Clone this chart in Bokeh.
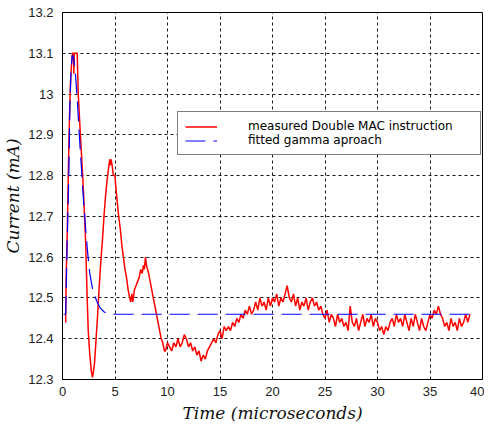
import numpy as np
from bokeh.plotting import figure
from bokeh.models import Legend, LegendItem, FixedTicker, Range1d
from bokeh.embed import file_html
from bokeh.resources import INLINE

# ---- data ----
# measured current, early transient (time in microseconds, current in mA)
meas_t_early = [0.3, 0.35, 0.45, 0.55, 0.65, 0.75, 0.85, 0.95, 1.05, 1.08, 1.12, 1.25, 1.4,
                1.5, 1.6, 1.75, 1.9, 2.05, 2.2, 2.35, 2.45, 2.6, 2.75, 2.85, 2.95, 3.05,
                3.2, 3.35, 3.5, 3.65, 3.8, 3.95, 4.1, 4.25, 4.4, 4.5, 4.55, 4.6, 4.7, 4.85,
                5.0, 5.05, 5.2, 5.35, 5.5, 5.65, 5.8, 5.95, 6.1, 6.25, 6.4, 6.5, 6.6, 6.7,
                6.85, 7.0, 7.15, 7.3, 7.45, 7.6, 7.7, 7.8, 7.9, 8.0, 8.1, 8.2, 8.35, 8.5,
                8.65, 8.8, 8.95, 9.1, 9.25, 9.4, 9.55, 9.7]
meas_v_early = [12.44, 12.55, 12.66, 12.80, 12.93, 13.02, 13.07, 13.10, 13.10, 13.05, 13.10, 13.10, 13.10,
                13.00, 12.95, 12.88, 12.81, 12.73, 12.64, 12.50, 12.42, 12.36, 12.32, 12.305, 12.32, 12.34,
                12.40, 12.46, 12.53, 12.59, 12.64, 12.70, 12.75, 12.79, 12.82, 12.84, 12.825, 12.84, 12.83, 12.80,
                12.80, 12.78, 12.74, 12.70, 12.67, 12.63, 12.60, 12.57, 12.55, 12.52, 12.50, 12.49, 12.51, 12.49,
                12.52, 12.53, 12.54, 12.55, 12.57, 12.56, 12.58, 12.57, 12.60, 12.58, 12.57, 12.56, 12.54, 12.52,
                12.50, 12.48, 12.46, 12.44, 12.42, 12.40, 12.39, 12.37]
# measured current, settled part: samples every 0.2 us starting at 9.8 us
meas_settle_start = 9.8
meas_settle_step = 0.2
meas_v_settle = [
    12.37, 12.39, 12.38, 12.37, 12.39, 12.38, 12.40, 12.38, 12.39, 12.41,
    12.40, 12.38, 12.39, 12.37, 12.38, 12.36, 12.37, 12.345, 12.36, 12.35,
    12.37, 12.38, 12.39, 12.40, 12.39, 12.41, 12.42, 12.40, 12.43, 12.42,
    12.43, 12.42, 12.44, 12.43, 12.45, 12.44, 12.46, 12.45, 12.47, 12.46,
    12.48, 12.46, 12.47, 12.49, 12.47, 12.50, 12.48, 12.49, 12.47, 12.50,
    12.48, 12.50, 12.49, 12.51, 12.48, 12.50, 12.49, 12.51, 12.53, 12.50,
    12.49, 12.51, 12.48, 12.50, 12.47, 12.49, 12.48, 12.50, 12.47, 12.49,
    12.50, 12.48, 12.49, 12.47, 12.48, 12.46, 12.45, 12.47, 12.44, 12.46,
    12.45, 12.43, 12.46, 12.44, 12.45, 12.43, 12.44, 12.42, 12.48, 12.44,
    12.43, 12.45, 12.42, 12.44, 12.46, 12.43, 12.45, 12.44, 12.46, 12.43,
    12.45, 12.44, 12.42, 12.43, 12.41, 12.43, 12.42, 12.44, 12.45, 12.43,
    12.46, 12.44, 12.45, 12.43, 12.46, 12.44, 12.42, 12.45, 12.43, 12.46,
    12.44, 12.42, 12.45, 12.43, 12.42, 12.44, 12.46, 12.45, 12.47, 12.46,
    12.48, 12.46, 12.45, 12.43, 12.44, 12.42, 12.45, 12.43, 12.44, 12.42,
    12.45, 12.43, 12.44, 12.46, 12.44, 12.46]

# fitted gamma approach
fit_t = [0.1, 0.3, 0.45, 0.6, 0.7, 0.8, 0.92, 1.05, 1.2, 1.4, 1.6, 1.8, 2.0, 2.2, 2.4,
         2.6, 2.8, 3.0, 3.3, 3.6, 4.0, 4.5, 5.0, 10.0, 20.0, 30.0, 38.8]
fit_v = [12.46, 12.46, 12.64, 12.80, 12.97, 13.05, 13.095, 13.09, 13.06, 12.99, 12.90, 12.82,
         12.74, 12.67, 12.61, 12.56, 12.53, 12.51, 12.49, 12.475, 12.465, 12.462, 12.46,
         12.46, 12.46, 12.46, 12.46]

x_ticks = [0, 5, 10, 15, 20, 25, 30, 35, 40]
y_ticks = [12.3, 12.4, 12.5, 12.6, 12.7, 12.8, 12.9, 13.0, 13.1, 13.2]
y_tick_labels = ["12.3", "12.4", "12.5", "12.6", "12.7", "12.8", "12.9", "13", "13.1", "13.2"]

series_names = ["measured Double MAC instruction", "fitted gamma aproach"]

# ---- build ----
settle_t = [round(meas_settle_start + meas_settle_step * k, 2) for k in range(len(meas_v_settle))]
meas_t = meas_t_early + settle_t
meas_v = meas_v_early + meas_v_settle

p = figure(width=484, height=425, output_backend="svg", toolbar_location=None,
           x_range=Range1d(0, 40), y_range=Range1d(12.3, 13.2),
           min_border_left=62, min_border_right=2, min_border_top=12, min_border_bottom=45)
p.background_fill_color = "white"
p.border_fill_color = "white"
p.outline_line_color = "black"
p.outline_line_width = 1

r_meas = p.line(meas_t, meas_v, line_color="#ff0000", line_width=1.5)
r_fit = p.line(fit_t, fit_v, line_color="#0000ff", line_width=1.2, line_dash="20 8")

for ax in (p.xaxis[0], p.yaxis[0]):
    ax.axis_line_color = "black"
    ax.major_tick_out = 0
    ax.major_tick_in = 0
    ax.minor_tick_out = 0
    ax.minor_tick_in = 0
    ax.major_label_text_font = "Liberation Sans"
    ax.major_label_text_font_size = "13px"
    ax.major_label_text_color = "#222222"
    ax.axis_label_text_font = "DejaVu Serif"
    ax.axis_label_text_font_style = "italic"
    ax.axis_label_text_font_size = "17px"
    ax.axis_label_text_color = "#111111"

p.xaxis[0].ticker = FixedTicker(ticks=x_ticks)
p.yaxis[0].ticker = FixedTicker(ticks=y_ticks)
p.yaxis[0].major_label_overrides = {t: l for t, l in zip(y_ticks, y_tick_labels)}
p.xaxis[0].major_label_standoff = 7
p.yaxis[0].major_label_standoff = 9
p.xaxis[0].axis_label = "Time (microseconds)"
p.yaxis[0].axis_label = "Current (mA)"
p.xaxis[0].axis_label_standoff = 4
p.yaxis[0].axis_label_standoff = 2

for g in (p.xgrid[0], p.ygrid[0]):
    g.grid_line_color = "black"
    g.grid_line_dash = "3 3"
    g.grid_line_width = 1
    g.grid_line_alpha = 0.9
p.xgrid[0].ticker = FixedTicker(ticks=x_ticks)
p.ygrid[0].ticker = FixedTicker(ticks=y_ticks)

legend = Legend(items=[LegendItem(label=series_names[0], renderers=[r_meas]),
                       LegendItem(label=series_names[1], renderers=[r_fit])],
                location=(115, 224))
legend.padding = 7
legend.margin = 0
legend.spacing = 0
legend.glyph_width = 32
legend.glyph_height = 13
legend.label_height = 13
legend.label_standoff = 31
legend.label_width = 225
legend.label_text_font = "DejaVu Sans"
legend.label_text_font_size = "12px"
legend.label_text_line_height = 1.05
legend.label_text_color = "black"
legend.border_line_color = "black"
legend.border_line_width = 1
legend.background_fill_color = "white"
legend.background_fill_alpha = 1.0
p.add_layout(legend, "center")

open("out.html", "w").write(file_html(p, INLINE))
